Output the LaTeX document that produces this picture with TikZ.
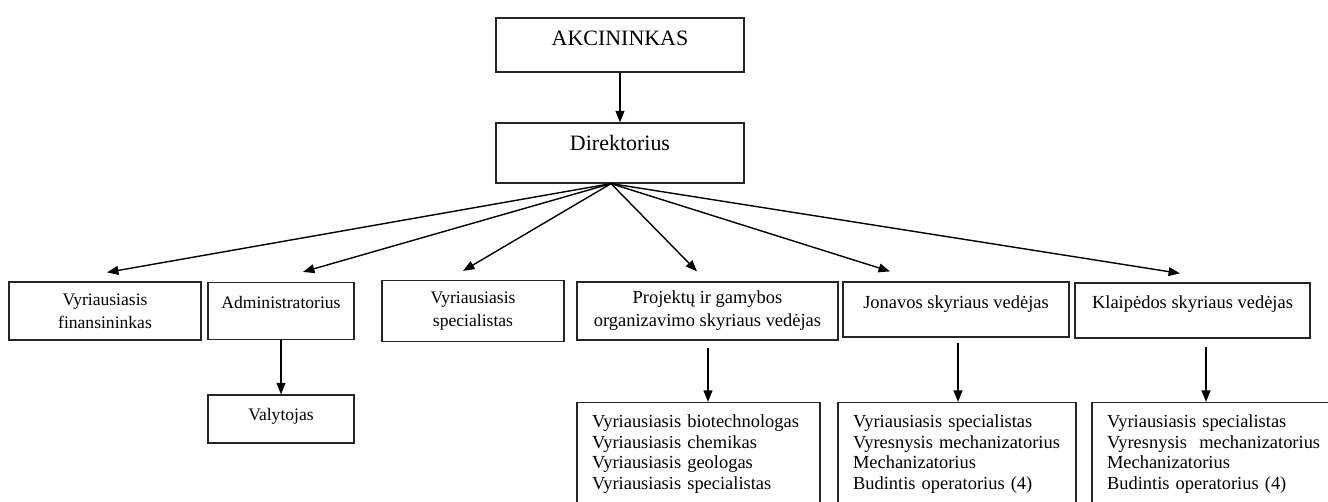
\documentclass[tikz,border=0pt]{standalone}
\usepackage{fontspec}
\setmainfont{Liberation Serif}
\usetikzlibrary{
  arrows.meta,
  calc
}

\tikzset{
  box/.style={draw=black!85, line width=0.7pt, align=center, inner sep=0pt,
    font=\fontsize{10.5}{13}\selectfont},
  smallbox/.style={box, font=\fontsize{10}{13}\selectfont},
  bigbox/.style={box, font=\fontsize{12.5}{15}\selectfont},
  listbox/.style={draw=black!85, line width=0.7pt, align=left, inner xsep=8.5pt,
    inner ysep=0pt, font=\fontsize{10.5}{11.8}\selectfont},
  arr/.style={line width=0.8pt, -{Triangle[length=6.5pt,width=5pt]}}
}

\begin{document}
\begin{tikzpicture}[x=0.02cm, y=-0.02cm]
  \useasboundingbox (0,0) rectangle (1328,501);
  \def\Yrow{311};
  \def\Ylist{454};

  \node[bigbox, minimum width=4.96cm, minimum height=1.08cm, text depth=8pt]
    (akc) at (620,45) {AKCININKAS};
  \node[bigbox, minimum width=4.96cm, minimum height=1.2cm, text depth=11pt]
    (dir) at (620,153) {Direktorius};
  \coordinate (hub) at ($(dir.south)+(-9,0)$);

  % second row
  \node[smallbox, minimum width=3.84cm, minimum height=1.16cm]
    (fin) at (105,\Yrow) {Vyriausiasis\\finansininkas};
  \node[smallbox, minimum width=2.92cm, minimum height=1.14cm, text depth=9.5pt]
    (adm) at (281,\Yrow) {Administratorius};
  \node[smallbox, minimum width=3.64cm, minimum height=1.22cm]
    (spec) at (473,\Yrow) {Vyriausiasis\\specialistas};
  \node[box, minimum width=5.22cm, minimum height=1.16cm]
    (proj) at (707.5,\Yrow) {Projektų ir gamybos\\organizavimo skyriaus vedėjas};
  \node[box, minimum width=4.52cm, minimum height=1.1cm, text depth=8.5pt]
    (jon) at (956,309.5) {Jonavos skyriaus vedėjas};
  \node[box, minimum width=4.7cm, minimum height=1.1cm, text depth=9.5pt]
    (kla) at (1192.5,310.5) {Klaipėdos skyriaus vedėjas};

  \node[smallbox, minimum width=2.92cm, minimum height=0.96cm, text depth=5.5pt]
    (val) at (281,419) {Valytojas};

  % lists
  \node[listbox, text width=4.26cm, minimum height=2.06cm]
    (projl) at (698.5,\Ylist) {Vyriausiasis biotechnologas\\Vyriausiasis chemikas\\
      Vyriausiasis geologas\\Vyriausiasis specialistas};
  \node[listbox, text width=4.16cm, minimum height=2.06cm]
    (jonl) at (957,\Ylist) {Vyriausiasis specialistas\\Vyresnysis mechanizatorius\\
      Mechanizatorius\\Budintis operatorius (4)};
  \node[listbox, text width=4.36cm, minimum height=2.06cm]
    (klal) at (1216,\Ylist) {Vyriausiasis specialistas\\Vyresnysis\ \ mechanizatorius\\
      Mechanizatorius\\Budintis operatorius (4)};

  \draw[arr] (akc) -- (dir);
  \draw[arr] (hub) -- ($(fin.north)+(2,-9)$);
  \draw[arr] (hub) -- ($(adm.north)+(22,-10)$);
  \draw[arr] (hub) -- ($(spec.north)+(-10,-9)$);
  \draw[arr] (hub) -- ($(proj.north)+(-10.5,-10)$);
  \draw[arr] (hub) -- ($(jon.north)+(-66,-10)$);
  \draw[arr] (hub) -- ($(kla.north)+(-12.5,-9)$);

  \draw[arr] (adm) -- (val);
  \draw[arr] ($(proj.south)+(0.5,7)$) coordinate (p0) -- (p0 |- projl.north);
  \draw[arr] ($(jon.south)+(2,5)$) coordinate (j0) -- (j0 |- jonl.north);
  \draw[arr] ($(kla.south)+(13.5,8)$) coordinate (k0) -- (k0 |- klal.north);
\end{tikzpicture}
\end{document}
